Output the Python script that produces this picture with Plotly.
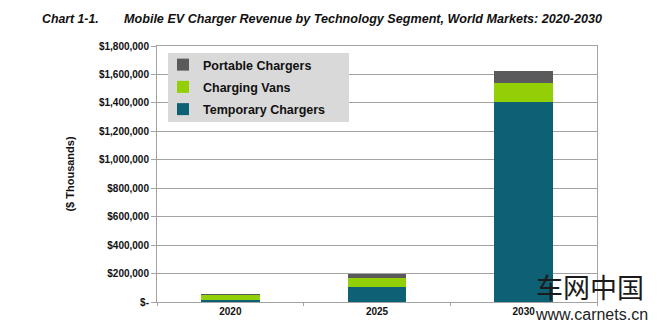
import plotly.graph_objects as go

# ---------------- data ----------------
years = ["2020", "2025", "2030"]
temporary_chargers = [12000, 106000, 1407000]
charging_vans = [38000, 63000, 134000]
portable_chargers = [2000, 28000, 85000]

y_tickvals = [0, 200000, 400000, 600000, 800000, 1000000, 1200000, 1400000, 1600000, 1800000]
y_ticktext = ["$-", "$200,000", "$400,000", "$600,000", "$800,000", "$1,000,000",
              "$1,200,000", "$1,400,000", "$1,600,000", "$1,800,000"]

title_label = "Chart 1-1."
title_text = "Mobile EV Charger Revenue by Technology Segment, World Markets: 2020-2030"
y_title = "($ Thousands)"

# ---------------- layout geometry ----------------
W, H = 660, 329
L, R, T, B = 157, 63, 46, 27
PW, PH = W - L - R, H - T - B


def px(xp):
    return (xp - L) / PW


def py(yp):
    return (H - B - yp) / PH


FONT = "Arial, 'Liberation Sans', sans-serif"
TEAL = "#0e6075"
GREEN = "#93cf06"
GRAY = "#5a5a5c"
GRID = "#a3a3a3"

fig = go.Figure()
fig.add_trace(go.Bar(name="Temporary Chargers", x=years, y=temporary_chargers,
                     marker=dict(color=TEAL, line=dict(width=0)),
                     legendgroup="a", legendrank=3))
fig.add_trace(go.Bar(name="Charging Vans", x=years, y=charging_vans,
                     marker=dict(color=GREEN, line=dict(width=0)),
                     legendgroup="b", legendrank=2))
fig.add_trace(go.Bar(name="Portable Chargers", x=years, y=portable_chargers,
                     marker=dict(color=GRAY, line=dict(width=0)),
                     legendgroup="c", legendrank=1))

fig.update_layout(
    width=W, height=H,
    margin=dict(l=L, r=R, t=T, b=B, pad=0),
    paper_bgcolor="white", plot_bgcolor="white",
    barmode="stack", bargap=0.6,
    font=dict(family=FONT, color="#111111"),
    showlegend=True,
    legend=dict(
        x=px(163), y=py(50), xanchor="left", yanchor="top",
        bgcolor="rgba(0,0,0,0)", borderwidth=0,
        traceorder="grouped", tracegroupgap=3,
        font=dict(family=FONT, size=12.5, weight="bold", color="#111111"),
        itemclick=False,
    ),
    xaxis=dict(
        showline=True, linecolor=GRID, linewidth=1, mirror=True,
        ticks="outside", tickson="boundaries", ticklen=3, tickcolor=GRID,
        tickfont=dict(family=FONT, size=10, weight="bold", color="#111111"),
        showgrid=False,
    ),
    yaxis=dict(
        range=[0, 1800000],
        tickvals=y_tickvals, ticktext=y_ticktext,
        showline=True, linecolor=GRID, linewidth=1, mirror=True,
        ticks="outside", ticklen=5, tickcolor=GRID,
        showgrid=True, gridcolor=GRID, gridwidth=1,
        zeroline=False,
        tickfont=dict(family=FONT, size=10, weight="bold", color="#111111"),
        title=dict(text=y_title, standoff=22,
                   font=dict(family=FONT, size=11, weight="bold", color="#111111")),
    ),
    shapes=[
        dict(type="rect", xref="paper", yref="paper",
             x0=px(168), x1=px(349), y0=py(122), y1=py(53),
             fillcolor="#d9d9d9", line=dict(width=0), layer="above"),
    ],
    annotations=[
        dict(text=title_label, xref="paper", yref="paper", x=px(40), y=py(19),
             xanchor="left", yanchor="middle", showarrow=False,
             font=dict(family=FONT, size=12.3, weight="bold", style="italic", color="#111111")),
        dict(text=title_text, xref="paper", yref="paper", x=px(122), y=py(19),
             xanchor="left", yanchor="middle", showarrow=False,
             font=dict(family=FONT, size=12.6, weight="bold", style="italic", color="#111111")),
        dict(text="车网中国", xref="paper", yref="paper", x=px(590), y=py(286),
             xanchor="center", yanchor="middle", showarrow=False,
             font=dict(family="'Noto Sans CJK SC'", size=27, color="#1b1b1b")),
        dict(text="www.carnets.cn", xref="paper", yref="paper", x=px(591), y=py(314),
             xanchor="center", yanchor="middle", showarrow=False,
             font=dict(family=FONT, size=16, color="#222222")),
    ],
)

fig.write_html("out.html")
